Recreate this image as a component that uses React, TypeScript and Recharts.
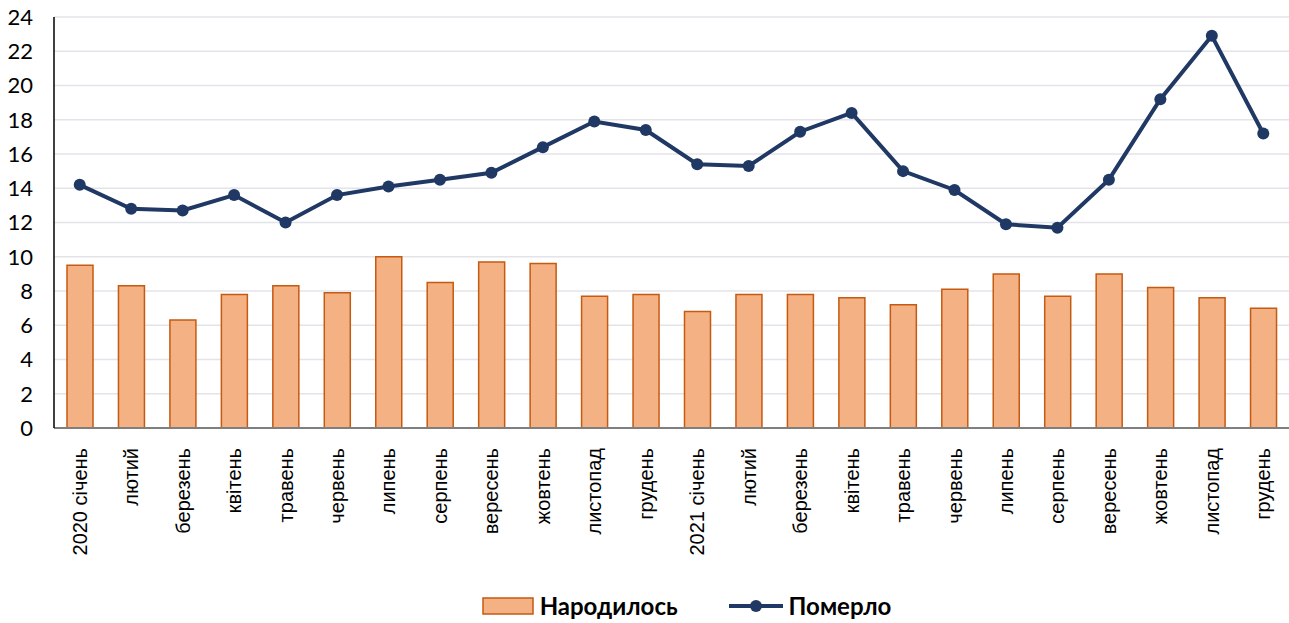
import React from "react";
import {
  ComposedChart,
  Bar,
  Line,
  XAxis,
  YAxis,
  CartesianGrid,
  Legend,
} from "recharts";

const months = [
  "2020 січень", "лютий", "березень", "квітень", "травень", "червень",
  "липень", "серпень", "вересень", "жовтень", "листопад", "грудень",
  "2021 січень", "лютий", "березень", "квітень", "травень", "червень",
  "липень", "серпень", "вересень", "жовтень", "листопад", "грудень",
];

const born = [
  9.5, 8.3, 6.3, 7.8, 8.3, 7.9, 10.0, 8.5, 9.7, 9.6, 7.7, 7.8,
  6.8, 7.8, 7.8, 7.6, 7.2, 8.1, 9.0, 7.7, 9.0, 8.2, 7.6, 7.0,
];

const died = [
  14.2, 12.8, 12.7, 13.6, 12.0, 13.6, 14.1, 14.5, 14.9, 16.4, 17.9, 17.4,
  15.4, 15.3, 17.3, 18.4, 15.0, 13.9, 11.9, 11.7, 14.5, 19.2, 22.9, 17.2,
];

const yTicks = [0, 2, 4, 6, 8, 10, 12, 14, 16, 18, 20, 22, 24];

const data = months.map((m, i) => ({
  key: i,
  month: m,
  born: born[i],
  died: died[i],
}));

const BAR_FILL = "#f4b183";
const BAR_STROKE = "#c55a11";
const LINE_COLOR = "#203864";

const MonthTick = (props: any) => {
  const { x, y, payload } = props;
  return (
    <text
      x={x}
      y={y}
      transform={`rotate(-90, ${x}, ${y})`}
      textAnchor="end"
      dy="0.35em"
      fill="#000"
      fontSize={20}
      fontFamily="'Liberation Sans', Arial, sans-serif"
    >
      {months[payload.value]}
    </text>
  );
};

const LegendContent = () => (
  <div
    style={{
      display: "flex",
      justifyContent: "center",
      alignItems: "center",
      fontFamily: "Lato, 'Open Sans', sans-serif",
      fontWeight: 700,
      fontSize: 24,
      color: "#000",
      paddingLeft: 84,
      paddingTop: 8,
    }}
  >
    <svg width={52} height={18} style={{ marginRight: 6 }}>
      <rect x={1} y={1} width={50} height={16} fill={BAR_FILL} stroke={BAR_STROKE} strokeWidth={1.5} />
    </svg>
    <span>Народилось</span>
    <svg width={56} height={18} style={{ marginLeft: 50, marginRight: 5 }}>
      <line x1={1} y1={9} x2={55} y2={9} stroke={LINE_COLOR} strokeWidth={4} />
      <circle cx={28} cy={9} r={6} fill={LINE_COLOR} />
    </svg>
    <span>Померло</span>
  </div>
);

export default function App() {
  return (
    <div style={{ position: "absolute", left: 0, top: 0, background: "#fff" }}>
      <ComposedChart
        width={1289}
        height={623}
        data={data}
        margin={{ top: 17, right: 0, bottom: 0, left: 0 }}
      >
        <CartesianGrid vertical={false} stroke="#e3e3ea" strokeWidth={1.5} />
        <XAxis
          dataKey="key"
          type="category"
          interval={0}
          height={155}
          tickLine={false}
          tick={<MonthTick />}
          tickMargin={14}
          axisLine={{ stroke: "#7f7f7f", strokeWidth: 2 }}
        />
        <YAxis
          width={54}
          domain={[0, 24]}
          ticks={yTicks}
          interval={0}
          tickLine={false}
          tickSize={0}
          tickMargin={21}
          axisLine={{ stroke: "#000", strokeWidth: 1.5 }}
          tick={{ fill: "#000", fontSize: 22, fontFamily: "Lato, 'Open Sans', sans-serif" }}
        />
        <Legend verticalAlign="bottom" height={40} content={<LegendContent />} />
        <Bar
          dataKey="born"
          name="Народилось"
          fill={BAR_FILL}
          stroke={BAR_STROKE}
          strokeWidth={1.5}
          barSize={26}
          isAnimationActive={false}
        />
        <Line
          dataKey="died"
          name="Померло"
          type="linear"
          stroke={LINE_COLOR}
          strokeWidth={4}
          dot={{ r: 6, fill: LINE_COLOR, stroke: LINE_COLOR, strokeWidth: 0 }}
          activeDot={false}
          isAnimationActive={false}
        />
      </ComposedChart>
    </div>
  );
}
